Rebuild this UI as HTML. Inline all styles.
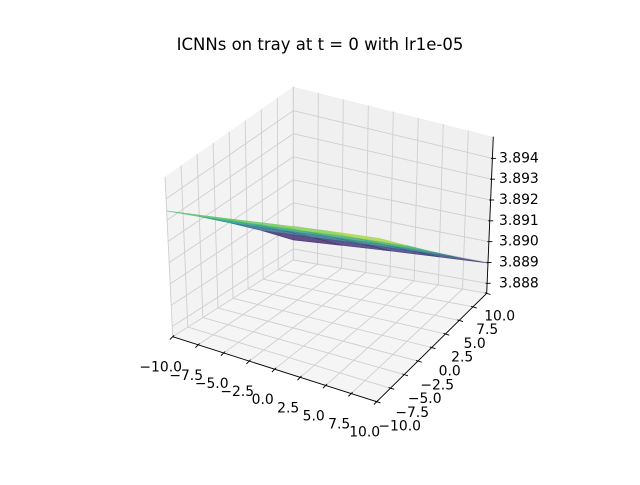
<!DOCTYPE html>
<html><head><meta charset="utf-8"><style>
html,body{margin:0;padding:0;background:#fff;}
svg text{font-family:"DejaVu Sans","Liberation Sans",sans-serif;}
</style></head><body>
<svg id="chart" width="640" height="480" viewBox="0 0 640 480" xmlns="http://www.w3.org/2000/svg">
<rect width="640" height="480" fill="#fff"/>
<text x="320" y="50" text-anchor="middle" font-size="16.5" fill="#000">ICNNs on tray at t = 0 with lr1e-05</text>
<g id="panes"></g>
<g id="grid"></g>
<g id="surf"></g>
<g id="axes"></g>
</svg>
<script>
const xTicks = [-10, -7.5, -5, -2.5, 0, 2.5, 5, 7.5, 10];
const yTicks = [-10, -7.5, -5, -2.5, 0, 2.5, 5, 7.5, 10];
const zTicks = [3.888, 3.889, 3.890, 3.891, 3.892, 3.893, 3.894];
const xTickLabels = ["−10.0","−7.5","−5.0","−2.5","0.0","2.5","5.0","7.5","10.0"];
const yTickLabels = ["−10.0","−7.5","−5.0","−2.5","0.0","2.5","5.0","7.5","10.0"];
const zTickLabels = ["3.888","3.889","3.890","3.891","3.892","3.893","3.894"];
const gridX = [-10, -5, 0, 5, 10];
const gridY = [-10, -5, 0, 5, 10];
// surface values: rows = y, cols = x
const zRows = [
  [3.89343, 3.89383, 3.89424, 3.89463, 3.89496],
  [3.89217, 3.89251, 3.89284, 3.89318, 3.89347],
  [3.89091, 3.89118, 3.89146, 3.89173, 3.89197],
  [3.88966, 3.88986, 3.89008, 3.89028, 3.89047],
  [3.88839, 3.88854, 3.88869, 3.88883, 3.88897]
];
const xLim = [-10, 10], yLim = [-10, 10], zLim = [3.88752, 3.89504];

// box geometry (screen)
const A=[172.7,336.7], B=[376.7,401.7], C=[486.7,293.3], D=[293.3,260];
const At=[165,176.7], Bt=[379.7,236.7], Ct=[493.3,136.7], Dt=[293.3,86.7];
function bil(p00,p10,p11,p01,u,v){
  return [p00[0]*(1-u)*(1-v)+p10[0]*u*(1-v)+p11[0]*u*v+p01[0]*(1-u)*v,
          p00[1]*(1-u)*(1-v)+p10[1]*u*(1-v)+p11[1]*u*v+p01[1]*(1-u)*v];
}
function proj(x,y,z){
  const u=(x-xLim[0])/(xLim[1]-xLim[0]), v=(y-yLim[0])/(yLim[1]-yLim[0]), w=(z-zLim[0])/(zLim[1]-zLim[0]);
  const b=bil(A,B,C,D,u,v), t=bil(At,Bt,Ct,Dt,u,v);
  return [b[0]+(t[0]-b[0])*w, b[1]+(t[1]-b[1])*w];
}
const NS="http://www.w3.org/2000/svg";
function mk(tag,attrs,parent){const e=document.createElementNS(NS,tag);for(const k in attrs)e.setAttribute(k,attrs[k]);parent.appendChild(e);return e;}
function pts(a){return a.map(p=>p[0].toFixed(2)+","+p[1].toFixed(2)).join(" ");}
const panes=document.getElementById('panes'),grid=document.getElementById('grid'),surf=document.getElementById('surf'),axes=document.getElementById('axes');
const z0=zLim[0], z1=zLim[1];
let e;
e=mk('polygon',{points:pts([proj(-10,-10,z0),proj(-10,10,z0),proj(-10,10,z1),proj(-10,-10,z1)]),fill:'#f3f3f3'},panes);


e=mk('polygon',{points:pts([proj(-10,10,z0),proj(10,10,z0),proj(10,10,z1),proj(-10,10,z1)]),fill:'#f0f0f0'},panes);


e=mk('polygon',{points:pts([proj(-10,-10,z0),proj(10,-10,z0),proj(10,10,z0),proj(-10,10,z0)]),fill:'#f5f5f5'},panes);


function gl(p,q){const l=mk('line',{x1:p[0],y1:p[1],x2:q[0],y2:q[1],stroke:'#cfcfcf','stroke-width':0.9},grid);return l;}
xTicks.forEach(x=>{
  e=gl(proj(x,-10,z0),proj(x,10,z0));
  
  
  e=gl(proj(x,10,z0),proj(x,10,z1));
  
  
});
yTicks.forEach(y=>{
  e=gl(proj(-10,y,z0),proj(10,y,z0));
  
  
  e=gl(proj(-10,y,z0),proj(-10,y,z1));
  
  
});
zTicks.forEach(z=>{
  e=gl(proj(-10,-10,z),proj(-10,10,z));
  
  
  e=gl(proj(-10,10,z),proj(10,10,z));
  
  
});
// viridis
const vir=[[68,1,84],[59,82,139],[33,145,140],[94,201,98],[253,231,37]];
function cmap(t){t=Math.max(0,Math.min(1,t))*4;const i=Math.min(3,Math.floor(t)),f=t-i;const a=vir[i],b=vir[i+1];
  return 'rgb('+a.map((c,k)=>Math.round(c+(b[k]-c)*f)).join(',')+')';}
let zmn=Infinity,zmx=-Infinity;zRows.forEach(r=>r.forEach(z=>{zmn=Math.min(zmn,z);zmx=Math.max(zmx,z);}));
const quads=[];
for(let j=0;j<gridY.length-1;j++)for(let i=0;i<gridX.length-1;i++){
  const c=[[i,j],[i+1,j],[i+1,j+1],[i,j+1]];
  const avg=c.reduce((s,q)=>s+zRows[q[1]][q[0]],0)/4;
  quads.push({p:c.map(q=>proj(gridX[q[0]],gridY[q[1]],zRows[q[1]][q[0]])),z:avg,d:(i-j)});
}
quads.sort((a,b)=>a.d-b.d);
quads.forEach(q=>{
  const col=cmap((q.z-zmn)/(zmx-zmn));
  const p=mk('polygon',{points:pts(q.p),fill:col,stroke:col,'stroke-width':0.6,'fill-opacity':0.8,'stroke-opacity':0.8},surf);
  
  
});
// axes
function al(p,q){return mk('line',{x1:p[0],y1:p[1],x2:q[0],y2:q[1],stroke:'#000','stroke-width':0.9},axes);}
e=al(proj(-10,-10,z0),proj(10,-10,z0));


e=al(proj(10,-10,z0),proj(10,10,z0));


e=al(proj(10,10,z0),proj(10,10,z1));


function txt(x,y,s,anchor){const t=mk('text',{x:x,y:y,'font-size':13.9,'text-anchor':anchor,'dominant-baseline':'central',fill:'#000'},axes);t.textContent=s;return t;}
xTicks.forEach((x,k)=>{
  const p=proj(x,-10,z0);
  e=al([p[0]+1.4,p[1]-1.4],[p[0]-2.8,p[1]+2.8]);
  
  
  e=txt(p[0]-12,p[1]+31,xTickLabels[k],'middle');
  
  
});
yTicks.forEach((y,k)=>{
  const p=proj(10,y,z0);const f=(y-yLim[0])/(yLim[1]-yLim[0]);
  e=al([p[0]-1.9,p[1]-0.6],[p[0]+3.8,p[1]+1.2]);
  
  
  e=txt(p[0]+23-10*f,p[1]+25-2*f,yTickLabels[k],'middle');
  
  
});
zTicks.forEach((z,k)=>{
  const p=proj(10,10,z);
  e=al([p[0]-1.5,p[1]],[p[0]+3.5,p[1]]);
  
  
  e=txt(499,p[1],zTickLabels[k],'start');
  
  
});
</script>
</body></html>
